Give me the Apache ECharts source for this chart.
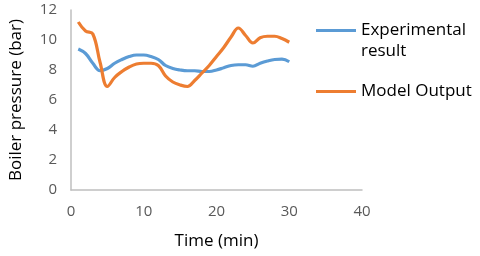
<!DOCTYPE html>
<html><head><meta charset="utf-8">
<script src="https://cdn.jsdelivr.net/npm/echarts@6/dist/echarts.min.js"></script>
<style>html,body{margin:0;padding:0;background:#fff}#c{width:480px;height:256px}</style>
</head><body><div id="c"></div>
<script>
const time = [1,2,3,4,5,6,7,8,9,10,11,12,13,14,15,16,17,18,19,20,21,22,23,24,25,26,27,28,29,30];
const experimental = [9.4,9.1,8.45,7.95,8.1,8.45,8.7,8.9,9.0,9.0,8.9,8.7,8.3,8.1,8.0,7.95,7.95,7.9,7.9,8.0,8.15,8.3,8.35,8.35,8.25,8.45,8.6,8.7,8.72,8.55];
const model = [11.2,10.6,10.4,8.5,6.9,7.5,7.9,8.2,8.4,8.45,8.45,8.3,7.6,7.2,7.0,6.9,7.3,7.8,8.3,8.9,9.5,10.2,10.8,10.3,9.8,10.15,10.25,10.25,10.1,9.85];
const xTicks = [0,10,20,30,40];
const yTicks = [0,2,4,6,8,10,12];

const font = 'Open Sans';
const chart = echarts.init(document.getElementById('c'));
chart.setOption({
  animation:false,
  textStyle:{fontFamily:font},
  grid:{left:68,right:118,top:10,bottom:66},
  xAxis:{type:'value',min:0,max:40,interval:10,
    name:'Time (min)',nameLocation:'middle',nameGap:43,
    nameTextStyle:{fontSize:17,color:'#000',fontFamily:font},
    axisLine:{lineStyle:{color:'#bfbfbf',width:1.5}},axisTick:{show:false},
    splitLine:{show:false},
    axisLabel:{fontSize:15,color:'#595959',margin:14}},
  yAxis:{type:'value',min:0,max:12,interval:2,
    name:'Boiler pressure (bar)',nameLocation:'middle',nameGap:46,
    nameTextStyle:{fontSize:17,color:'#000',fontFamily:font},
    axisLine:{show:true,lineStyle:{color:'#bfbfbf',width:1.5}},axisTick:{show:false},
    splitLine:{show:false},
    axisLabel:{fontSize:15,color:'#595959',margin:14}},
  legend:[
    {data:['Experimental'],orient:'vertical',left:311,top:17,itemWidth:40,itemHeight:3,icon:'rect',
     textStyle:{fontSize:17,color:'#000',fontFamily:font}},
    {data:['Model Output'],orient:'vertical',left:311,top:78,itemWidth:40,itemHeight:3,icon:'rect',
     textStyle:{fontSize:17,color:'#000',fontFamily:font}}
  ],
  graphic:[{type:'text',left:361,top:43,style:{text:'result',font:'17px "Open Sans"',fill:'#000'}}],
  series:[
    {name:'Experimental',type:'line',smooth:0.4,showSymbol:false,
     data:time.map((t,i)=>[t,experimental[i]]),lineStyle:{color:'#5B9BD5',width:3.2},itemStyle:{color:'#5B9BD5'}},
    {name:'Model Output',type:'line',smooth:0.4,showSymbol:false,
     data:time.map((t,i)=>[t,model[i]]),lineStyle:{color:'#ED7D31',width:3.2},itemStyle:{color:'#ED7D31'}}
  ]
});
</script></body></html>
